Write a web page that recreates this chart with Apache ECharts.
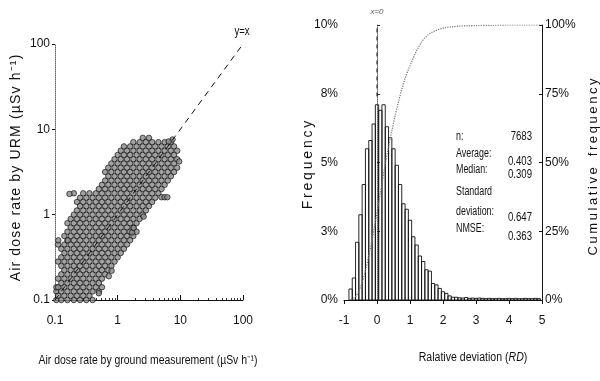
<!DOCTYPE html>
<html><head><meta charset="utf-8">
<script src="https://cdn.jsdelivr.net/npm/echarts@6/dist/echarts.min.js"></script>
<style>html,body{margin:0;padding:0;background:#fff}#c{width:600px;height:381px}</style>
</head><body><div id="c"></div>
<script>
// ---- Left panel: scatter (ground measurement vs URM), per-column y values ----
const cloudColumns = [
 [0.105, [0.1, 0.126, 0.141]],
 [0.112, [0.112, 0.141, 0.178, 0.282, 0.447]],
 [0.126, [0.1, 0.126, 0.158, 0.2, 0.251, 0.316, 0.398]],
 [0.141, [0.112, 0.141, 0.178, 0.224, 0.282, 0.355, 0.447, 0.562]],
 [0.158, [0.1, 0.126, 0.158, 0.2, 0.251, 0.316, 0.398, 0.501, 0.631, 0.794]],
 [0.178, [0.112, 0.141, 0.178, 0.224, 0.282, 0.355, 0.447, 0.562, 0.708, 0.891]],
 [0.2, [0.1, 0.126, 0.158, 0.2, 0.251, 0.316, 0.398, 0.501, 0.631, 0.794, 1, 1.78]],
 [0.224, [0.112, 0.141, 0.178, 0.224, 0.282, 0.355, 0.447, 0.562, 0.708, 0.891, 1.12, 1.41]],
 [0.251, [0.1, 0.126, 0.158, 0.2, 0.251, 0.316, 0.398, 0.501, 0.631, 0.794, 1, 1.26, 1.58]],
 [0.282, [0.112, 0.141, 0.178, 0.224, 0.282, 0.355, 0.447, 0.562, 0.708, 0.891, 1.12, 1.41, 1.78]],
 [0.316, [0.1, 0.126, 0.158, 0.2, 0.251, 0.316, 0.398, 0.501, 0.631, 0.794, 1, 1.26, 1.58]],
 [0.355, [0.112, 0.141, 0.178, 0.224, 0.282, 0.355, 0.447, 0.562, 0.708, 0.891, 1.12, 1.41, 1.78]],
 [0.398, [0.1, 0.126, 0.158, 0.2, 0.251, 0.316, 0.398, 0.501, 0.631, 0.794, 1, 1.26, 1.58]],
 [0.447, [0.141, 0.178, 0.224, 0.282, 0.355, 0.447, 0.562, 0.708, 0.891, 1.12, 1.41, 1.78]],
 [0.501, [0.126, 0.158, 0.2, 0.251, 0.316, 0.398, 0.501, 0.631, 0.794, 1, 1.26, 1.58, 2]],
 [0.562, [0.141, 0.178, 0.224, 0.282, 0.355, 0.447, 0.562, 0.708, 0.891, 1.12, 1.41, 1.78, 2.24]],
 [0.631, [0.2, 0.251, 0.316, 0.398, 0.501, 0.631, 0.794, 1, 1.26, 1.58, 2, 2.51, 3.16]],
 [0.708, [0.224, 0.282, 0.355, 0.447, 0.562, 0.708, 0.891, 1.12, 1.41, 1.78, 2.24, 2.82, 3.55]],
 [0.794, [0.251, 0.316, 0.398, 0.501, 0.631, 0.794, 1, 1.26, 1.58, 2, 2.51, 3.16, 3.98]],
 [0.891, [0.282, 0.355, 0.447, 0.562, 0.708, 0.891, 1.12, 1.41, 1.78, 2.24, 2.82, 3.55, 4.47]],
 [1, [0.316, 0.398, 0.501, 0.631, 0.794, 1, 1.26, 1.58, 2, 2.51, 3.16, 3.98, 5.01]],
 [1.12, [0.355, 0.447, 0.562, 0.708, 0.891, 1.12, 1.41, 1.78, 2.24, 2.82, 3.55, 4.47, 5.62]],
 [1.26, [0.398, 0.501, 0.631, 0.794, 1, 1.26, 1.58, 2, 2.51, 3.16, 3.98, 5.01, 6.31]],
 [1.41, [0.447, 0.562, 0.708, 0.891, 1.12, 1.41, 1.78, 2.24, 2.82, 3.55, 4.47, 5.62]],
 [1.58, [0.501, 0.631, 0.794, 1, 1.26, 1.58, 2, 2.51, 3.16, 3.98, 5.01, 6.31]],
 [1.78, [0.562, 0.708, 0.891, 1.12, 1.41, 1.78, 2.24, 2.82, 3.55, 4.47, 5.62, 7.08]],
 [2, [0.631, 0.794, 1, 1.26, 1.58, 2, 2.51, 3.16, 3.98, 5.01, 6.31]],
 [2.24, [0.891, 1.12, 1.41, 1.78, 2.24, 2.82, 3.55, 4.47, 5.62, 7.08]],
 [2.51, [1, 1.26, 1.58, 2, 2.51, 3.16, 3.98, 5.01, 6.31, 7.94]],
 [2.82, [1.12, 1.41, 1.78, 2.24, 2.82, 3.55, 4.47, 5.62, 7.08]],
 [3.16, [1.26, 1.58, 2, 2.51, 3.16, 3.98, 5.01, 6.31, 7.94]],
 [3.55, [1.41, 1.78, 2.24, 2.82, 3.55, 4.47, 5.62, 7.08]],
 [3.98, [1.58, 2, 2.51, 3.16, 3.98, 5.01, 6.31]],
 [4.47, [1.78, 2.24, 2.82, 3.55, 4.47, 5.62, 7.08]],
 [5.01, [2, 2.51, 3.16, 3.98, 5.01, 6.31]],
 [5.62, [2.24, 2.82, 3.55, 4.47, 5.62, 7.08]],
 [6.31, [2.51, 3.16, 3.98, 5.01, 6.31]],
 [7.08, [2.82, 3.55, 4.47, 5.62, 7.08]],
 [7.94, [3.16, 3.98, 5.01, 6.31]],
 [8.91, [3.55, 4.47, 5.62]]
];
const scatterOutliers = [[5.0,1.6],[5.6,1.6],[6.2,1.6],[9.6,4.2],[1.7,0.62],[1.8,0.7],[0.8,0.22],[0.72,0.19],[0.5,0.12],[0.17,1.75],[0.16,0.5],[2.6,0.95],[7.5,7.6],[6.5,7.2],[0.113,0.5]];
const identityLine = [[0.1,0.1],[100,100]];
const logTicks = [0.1, 1, 10, 100];

// ---- Right panel: histogram of relative deviation ----
const rdBins = [-0.8,-0.7,-0.6,-0.5,-0.4,-0.3,-0.2,-0.1,0,0.1,0.2,0.3,0.4,0.5,0.6,0.7,0.8,0.9,1,1.1,1.2,1.3,1.4,1.5,1.6,1.7,1.8,1.9,2,2.1,2.2,2.3,2.4,2.5,2.6,2.7,2.8,2.9,3,3.1,3.2,3.3,3.4,3.5,3.6,3.7,3.8,3.9,4,4.1,4.2,4.3,4.4,4.5,4.6,4.7,4.8,4.9];
const freqPct = [0.4,0.8,2.1,3.1,4.2,5.5,5.8,6.4,7.1,6.9,7.1,6.3,5.9,5.5,4.9,4.2,3.5,3.3,2.9,2.3,2.0,1.6,1.4,1.1,1.05,0.6,0.55,0.42,0.3,0.24,0.15,0.1,0.1,0.08,0.07,0.09,0.06,0.07,0.06,0.07,0.06,0.05,0.06,0.05,0.05,0.06,0.05,0.05,0.06,0.05,0.06,0.05,0.05,0.06,0.05,0.05,0.06,0.05];
const cumRD = [-0.85,-0.75,-0.65,-0.55,-0.45,-0.35,-0.25,-0.15,-0.05,0.05,0.15,0.25,0.35,0.45,0.55,0.65,0.75,0.85,0.95,1.05,1.15,1.25,1.35,1.45,1.55,1.65,1.75,1.85,1.95,2.05,2.25,2.5,2.75,3,3.5,4,4.5,5];
const cumPct = [0,0.4,1.2,3.3,6.4,10.6,16.1,21.9,28.3,35.4,42.3,49.4,55.7,61.6,67.1,72,76.6,80.5,83.8,86.6,89.4,91.8,93.8,95.3,96.4,97.2,97.8,98.3,98.7,99.0,99.3,99.6,99.7,99.8,99.9,100,100,100];
const zeroLine = [[0,7.4],[0,10]];
const freqTickLabels = ['0%','3%','5%','8%','10%'];
const cumTickLabels = ['0%','25%','50%','75%','100%'];
const statLabels = ['n:','Average:','Median:','Standard','deviation:','NMSE:'];
const statValues = ['7683','0.403','0.309','','0.647','0.363'];

const scatterData = [];
cloudColumns.forEach(([x, ys]) => ys.forEach(y => scatterData.push([x, y])));
scatterOutliers.forEach(p => scatterData.push(p));

const SANS = '"Liberation Sans",Arial,sans-serif';
const HALF_BIN = 0.05;
const TS = '\u2009';

const chart = echarts.init(document.getElementById('c'), null, {renderer: 'canvas'});

const statY = [137, 154, 170, 192, 212, 229];
const statVY = [137, 162, 175, null, 218, 237];
const graphics = [];
statLabels.forEach((t, i) => graphics.push({type:'text', x:456, y:statY[i], scaleX:0.74,
  style:{text:t, font:'12px '+SANS, fill:'#111', textAlign:'left', textVerticalAlign:'middle'}}));
statValues.forEach((t, i) => { if (t) graphics.push({type:'text', x:532, y:statVY[i], scaleX:0.8,
  style:{text:t, font:'12px '+SANS, fill:'#111', textAlign:'right', textVerticalAlign:'middle'}}); });
graphics.push(
 {type:'text', x:148, y:361, scaleX:0.87, style:{text:'Air dose rate by ground measurement (\u00b5Sv h\u207b\u00b9)', font:'12px '+SANS, fill:'#111', textAlign:'center', textVerticalAlign:'middle'}},
 {type:'text', x:16, y:168, rotation:Math.PI/2, style:{text:'Air dose rate by URM (\u00b5Sv h\u207b\u00b9)'.split('').join('\u200a'), font:'14px '+SANS, fill:'#111', textAlign:'center', textVerticalAlign:'middle'}},
 {type:'text', x:473, y:358, scaleX:0.88, style:{text:'{n|Ralative deviation (}{i|RD}{n|)}', font:'12px '+SANS, fill:'#111', textAlign:'center', textVerticalAlign:'middle',
   rich:{n:{font:'12px '+SANS, fill:'#111'}, i:{font:'italic 12px '+SANS, fill:'#111'}}}},
 {type:'text', x:308, y:165, rotation:Math.PI/2, style:{text:['F','r','e','q','u','e','n','c','y'].join(TS), font:'14px '+SANS, fill:'#111', textAlign:'center', textVerticalAlign:'middle'}},
 {type:'text', x:593, y:167, rotation:Math.PI/2, style:{text:'Cumulative'.split('').join(TS)+'   '+'frequency'.split('').join(TS), font:'13px '+SANS, fill:'#111', textAlign:'center', textVerticalAlign:'middle'}},
 {type:'text', x:242, y:32, scaleX:0.8, style:{text:'y=x', font:'12px '+SANS, fill:'#111', textAlign:'center', textVerticalAlign:'middle'}},
 {type:'text', x:377, y:12, style:{text:'x=0', font:'italic 8px '+SANS, fill:'#555', textAlign:'center', textVerticalAlign:'middle'}}
);

chart.setOption({
 animation: false,
 backgroundColor: '#fff',
 grid: [
  {left:55, top:44, width:188, height:256},
  {left:344, top:25, width:198, height:275}
 ],
 xAxis: [
  {gridIndex:0, type:'log', logBase:10, min:0.1, max:100,
   axisLine:{lineStyle:{color:'#111', width:1}},
   axisTick:{inside:true, length:5, lineStyle:{color:'#111'}},
   minorTick:{show:true, splitNumber:10, length:2, lineStyle:{color:'#333'}},
   splitLine:{show:false},
   axisLabel:{font:'13px '+SANS, color:'#111', margin:15, formatter: v => logTicks.includes(+v) ? String(v) : ''}},
  {gridIndex:1, type:'value', min:-1, max:5, interval:1,
   axisLine:{onZero:false, lineStyle:{color:'#111', width:1}},
   axisTick:{inside:false, length:4, lineStyle:{color:'#111'}},
   splitLine:{show:false},
   axisLabel:{font:'13px '+SANS, color:'#111', margin:15}}
 ],
 yAxis: [
  {gridIndex:0, type:'log', logBase:10, min:0.1, max:100,
   axisLine:{lineStyle:{color:'#666', width:1, type:'dotted'}},
   axisTick:{length:3, lineStyle:{color:'#111'}},
   splitLine:{show:false},
   axisLabel:{font:'13px '+SANS, color:'#111', margin:5}},
  {gridIndex:1, type:'value', min:0, max:10, interval:2.5, position:'left',
   axisLine:{show:true, lineStyle:{color:'#666', width:1, type:'dotted'}},
   axisTick:{show:true, inside:true, length:3, lineStyle:{color:'#333'}},
   splitLine:{show:false},
   axisLabel:{font:'12px '+SANS, color:'#111', margin:6, formatter:(v, i) => freqTickLabels[i]}},
  {gridIndex:1, type:'value', min:0, max:100, interval:25, position:'right',
   axisLine:{show:true, lineStyle:{color:'#111', width:1}},
   axisTick:{show:true, inside:true, length:3, lineStyle:{color:'#111'}},
   splitLine:{show:false},
   axisLabel:{font:'12px '+SANS, color:'#111', margin:3, formatter:(v, i) => cumTickLabels[i]}}
 ],
 graphic: graphics,
 series: [
  {type:'scatter', xAxisIndex:0, yAxisIndex:0, data:scatterData, symbol:'circle', symbolSize:5.5,
   itemStyle:{color:'#8a8a8a', borderColor:'#000', borderWidth:0.8}, z:2},
  {type:'line', xAxisIndex:0, yAxisIndex:0, data:identityLine, symbol:'none',
   lineStyle:{color:'#111', width:1, type:[6,5]}, z:3},
  {type:'custom', xAxisIndex:1, yAxisIndex:1, data: rdBins.map((c, i) => [c, freqPct[i]]),
   encode:{x:0, y:1},
   renderItem:(params, api) => {
     const c = api.value(0), v = api.value(1);
     const p0 = api.coord([c - HALF_BIN, v]);
     const p1 = api.coord([c + HALF_BIN, 0]);
     return {type:'rect', shape:{x:p0[0], y:p0[1], width:p1[0]-p0[0], height:p1[1]-p0[1]},
       style:{fill:'rgba(0,0,0,0)', stroke:'#111', lineWidth:0.9}};
   }, z:2},
  {type:'line', xAxisIndex:1, yAxisIndex:2, data: cumRD.map((r, i) => [r, cumPct[i]]), symbol:'none', smooth:0.3,
   lineStyle:{color:'#777', width:1.2, type:'dotted'}, z:3},
  {type:'line', xAxisIndex:1, yAxisIndex:1, data: zeroLine, symbol:'none',
   lineStyle:{color:'#111', width:1, type:[4,4]}, z:3}
 ]
});
</script></body></html>
